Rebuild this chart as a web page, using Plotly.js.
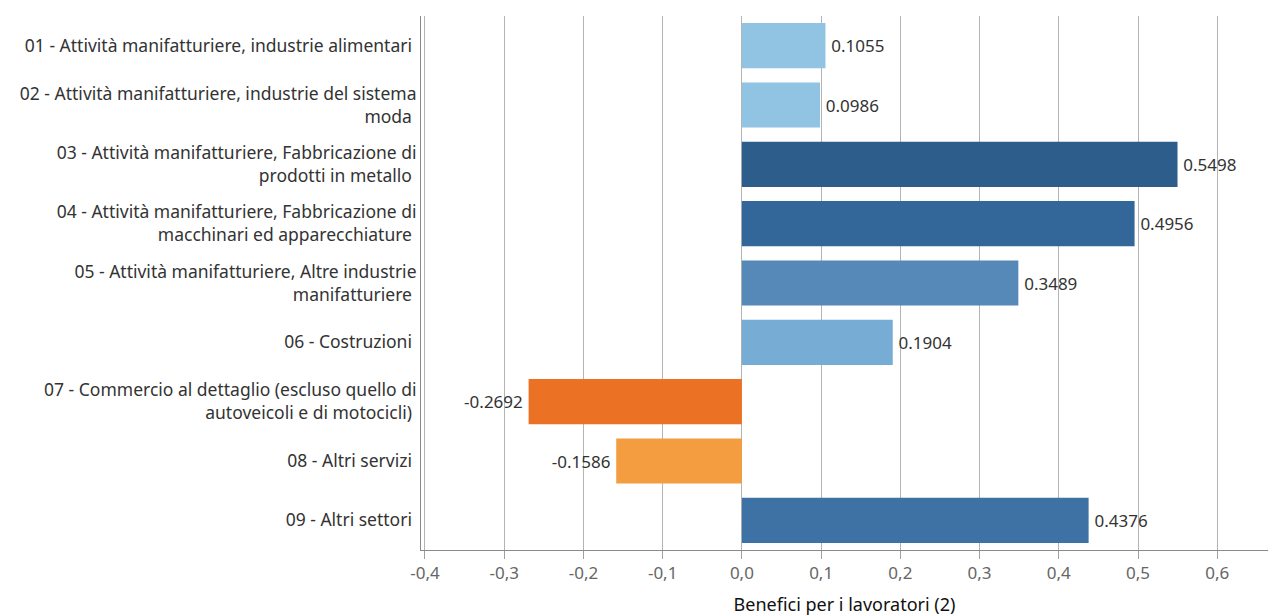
<!DOCTYPE html>
<html>
<head>
<meta charset="utf-8">
<script src="https://cdn.plot.ly/plotly-3.0.1.min.js"></script>
<style>html,body{margin:0;padding:0;background:#fff;}#chart{width:1271px;height:616px;}</style>
</head>
<body>
<div id="chart"></div>
<script>
const categories = [
  "01 - Attività manifatturiere, industrie alimentari",
  "02 - Attività manifatturiere, industrie del sistema<br>moda",
  "03 - Attività manifatturiere, Fabbricazione di<br>prodotti in metallo",
  "04 - Attività manifatturiere, Fabbricazione di<br>macchinari ed apparecchiature",
  "05 - Attività manifatturiere, Altre industrie<br>manifatturiere",
  "06 - Costruzioni",
  "07 - Commercio al dettaglio (escluso quello di<br>autoveicoli e di motocicli)",
  "08 - Altri servizi",
  "09 - Altri settori"
];
const values = [0.1055, 0.0986, 0.5498, 0.4956, 0.3489, 0.1904, -0.2692, -0.1586, 0.4376];
const valueLabels = ["0.1055", "0.0986", "0.5498", "0.4956", "0.3489", "0.1904", "-0.2692", "-0.1586", "0.4376"];
const barColors = ["#91c3e2", "#91c3e2", "#2d5e8b", "#336799", "#5688b8", "#77add5", "#eb7125", "#f39c40", "#3e72a4"];
const tickVals = [-0.4, -0.3, -0.2, -0.1, 0, 0.1, 0.2, 0.3, 0.4, 0.5, 0.6];
const tickText = ["-0,4", "-0,3", "-0,2", "-0,1", "0,0", "0,1", "0,2", "0,3", "0,4", "0,5", "0,6"];
const xTitle = "Benefici per i lavoratori (2)";

const paddedLabels = valueLabels.map((t, i) => values[i] >= 0 ? "\u2009" + t : t + "\u2009");

const trace = {
  type: "bar",
  orientation: "h",
  y: categories,
  x: values,
  text: paddedLabels,
  textposition: "outside",
  cliponaxis: false,
  textfont: {family: "Noto Sans, sans-serif", size: 17, color: "#333333"},
  marker: {color: barColors},
  hoverinfo: "none"
};

const layout = {
  width: 1271,
  height: 616,
  margin: {l: 421, r: 3, t: 16, b: 66},
  paper_bgcolor: "#ffffff",
  plot_bgcolor: "#ffffff",
  showlegend: false,
  bargap: 0.24,
  font: {family: "Noto Sans, sans-serif", color: "#333333"},
  xaxis: {
    range: [-0.405, 0.664],
    tickvals: tickVals,
    ticktext: tickText,
    showgrid: true,
    gridcolor: "#b4b4b4",
    gridwidth: 1,
    zeroline: false,
    showline: true,
    linecolor: "#8a8a8a",
    linewidth: 1,
    ticks: "outside",
    ticklen: 8,
    tickcolor: "#a0a0a0",
    tickfont: {family: "Noto Sans, sans-serif", size: 17, color: "#666666"},
    title: {text: xTitle, font: {family: "Noto Sans, sans-serif", size: 18, color: "#111111"}, standoff: 19},
    fixedrange: true
  },
  yaxis: {
    type: "category",
    autorange: "reversed",
    showgrid: false,
    showline: true,
    linecolor: "#8a8a8a",
    linewidth: 1,
    ticks: "",
    ticksuffix: " ",
    tickfont: {family: "Noto Sans, sans-serif", size: 17.5, color: "#333333"},
    fixedrange: true
  }
};

Plotly.newPlot("chart", [trace], layout, {displayModeBar: false, staticPlot: true});
</script>
</body>
</html>
